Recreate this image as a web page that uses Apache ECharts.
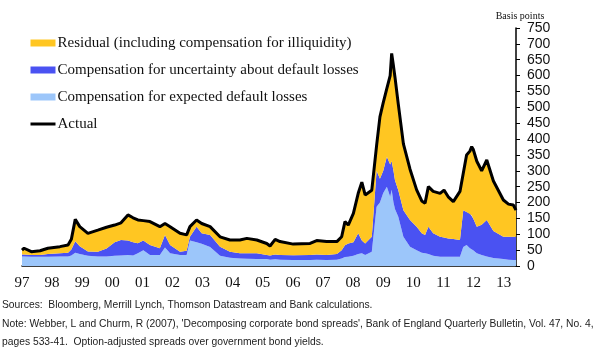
<!DOCTYPE html>
<html>
<head>
<meta charset="utf-8">
<script src="https://cdn.jsdelivr.net/npm/echarts@6/dist/echarts.min.js"></script>
<style>
  html, body { margin: 0; padding: 0; background: #fff; }
  #main { width: 598px; height: 352px; }
</style>
</head>
<body>
<div id="main"></div>
<script>
// decimal years
var dates = [1997.00, 1997.07, 1997.31, 1997.60, 1997.86, 1998.26, 1998.53, 1998.64, 1998.77, 1998.92,
  1999.19, 1999.52, 1999.81, 2000.08, 2000.29, 2000.52, 2000.69, 2000.85, 2001.03, 2001.25,
  2001.58, 2001.75, 2001.92, 2002.25, 2002.47, 2002.58, 2002.80, 2002.97, 2003.25, 2003.58,
  2003.91, 2004.24, 2004.47, 2004.80, 2005.13, 2005.24, 2005.41, 2005.57, 2006.01, 2006.57,
  2006.79, 2007.12, 2007.46, 2007.62, 2007.73, 2007.84, 2008.01, 2008.17, 2008.29, 2008.40,
  2008.62, 2008.78, 2008.89, 2009.00, 2009.12, 2009.23, 2009.28, 2009.34, 2009.39, 2009.50,
  2009.67, 2009.89, 2010.11, 2010.28, 2010.39, 2010.50, 2010.66, 2010.89, 2011.02, 2011.16,
  2011.33, 2011.55, 2011.66, 2011.77, 2011.88, 2011.94, 2011.99, 2012.11, 2012.27, 2012.44,
  2012.66, 2012.99, 2013.16, 2013.32, 2013.41]

// basis points
var expected = [30, 30, 29, 29, 29, 30, 30, 33, 42, 38,
  32, 30, 30, 32, 33, 35, 33, 40, 50, 35,
  35, 58, 40, 35, 35, 80, 75, 70, 60, 32,
  26, 24, 23, 22, 22, 20, 21, 20, 19, 19,
  20, 19, 20, 24, 28, 29, 32, 38, 40, 35,
  45, 187, 200, 230, 250, 218, 240, 200, 180, 155,
  92, 61, 50, 42, 40, 38, 32, 29, 29, 29,
  29, 29, 60, 66, 56, 52, 50, 40, 35, 30,
  25, 22, 20, 19, 19]

var uncertainty = [6, 6, 6, 6, 9, 10, 12, 19, 36, 24,
  14, 15, 25, 43, 49, 45, 42, 32, 30, 31,
  21, 40, 26, 10, 13, 12, 49, 33, 38, 29,
  19, 16, 17, 18, 13, 13, 15, 15, 15, 16,
  16, 16, 18, 26, 37, 42, 43, 65, 40, 36,
  47, 113, 75, 70, 94, 102, 90, 100, 90, 84,
  84, 84, 74, 61, 58, 86, 71, 63, 61, 58,
  56, 53, 116, 104, 110, 108, 100, 84, 95, 115,
  85, 70, 72, 73, 73]

var residual = [14, 20, 10, 13, 18, 21, 24, 32, 69, 62,
  57, 68, 67, 54, 54, 81, 77, 73, 63, 74,
  68, 36, 58, 58, 50, 32, 21, 31, 26, 31,
  37, 42, 47, 42, 36, 30, 48, 42, 35, 36,
  44, 42, 39, 42, 75, 58, 91, 126, 184, 153,
  147, 80, 195, 215, 216, 280, 340, 330, 325, 271,
  209, 160, 116, 102, 100, 126, 132, 137, 149, 131,
  118, 153, 116, 180, 196, 216, 218, 206, 170, 189,
  158, 116, 103, 100, 84]

var actual = [50, 56, 45, 48, 56, 61, 66, 84, 147, 124,
  103, 113, 122, 129, 136, 161, 152, 145, 143, 140,
  124, 134, 124, 103, 98, 124, 145, 134, 124, 92,
  82, 82, 87, 82, 71, 63, 84, 77, 69, 71,
  80, 77, 77, 92, 140, 129, 166, 229, 264, 224,
  239, 380, 470, 515, 560, 600, 670, 630, 595, 510,
  385, 305, 240, 205, 198, 250, 235, 229, 239, 218,
  203, 235, 292, 350, 362, 376, 368, 330, 300, 334,
  268, 208, 195, 192, 176]

var names = [
  'Residual (including compensation for illiquidity)',
  'Compensation for uncertainty about default losses',
  'Compensation for expected default losses',
  'Actual'
]

var YEAR = 365.25 * 24 * 3600 * 1000

function toTime(d) {
  var y = Math.floor(d + 1e-9)
  var start = Date.UTC(y, 0, 1)
  var end = Date.UTC(y + 1, 0, 1)
  return start + (d - y) * (end - start)
}

function pairs(vals) {
  return dates.map(function(d, i) { return [toTime(d), vals[i]] })
}

var serif = '"Liberation Serif", "DejaVu Serif", serif'
var sans = '"Liberation Sans", Arial, sans-serif'

var myChart = echarts.init(document.getElementById('main'))

var option = {
  backgroundColor: '#fff',
  animation: false,
  useUTC: true,
  grid: { left: 22, right: 82, top: 28, bottom: 86 },
  legend: {
    orient: 'vertical',
    left: 24,
    top: 29,
    itemWidth: 25,
    itemHeight: 7,
    itemGap: 9,
    textStyle: { fontFamily: serif, fontSize: 15, color: '#111', lineHeight: 18, padding: [0, 0, 0, -3] },
    data: [
      { name: names[0], icon: 'rect' },
      { name: names[1], icon: 'rect' },
      { name: names[2], icon: 'rect' },
      { name: names[3], itemStyle: { color: 'rgba(0,0,0,0)', borderWidth: 0 }, lineStyle: { width: 3, color: '#000' } }
    ]
  },
  xAxis: {
    type: 'time',
    min: toTime(1997),
    max: toTime(2013.41),
    minInterval: YEAR * 0.99,
    maxInterval: YEAR * 1.01,
    splitLine: { show: false },
    axisLine: { lineStyle: { color: '#000', width: 1.5 } },
    axisTick: { inside: true, length: 4, lineStyle: { color: '#000' } },
    axisLabel: {
      margin: 10,
      fontFamily: serif,
      fontSize: 15,
      color: '#111',
      hideOverlap: false,
      showMinLabel: true,
      showMaxLabel: false,
      formatter: function(v) {
        var dt = new Date(v)
        if (dt.getUTCMonth() !== 0 || dt.getUTCDate() !== 1) return ''
        return String(dt.getUTCFullYear()).slice(2)
      }
    }
  },
  yAxis: {
    type: 'value',
    position: 'right',
    min: 0,
    max: 750,
    interval: 50,
    name: 'Basis points',
    nameLocation: 'end',
    nameGap: 7,
    nameTextStyle: { fontFamily: serif, fontSize: 10, color: '#111', padding: [0, 0, 0, 8] },
    splitLine: { show: false },
    axisLine: { show: true, lineStyle: { color: '#000', width: 1.5 } },
    axisTick: { show: true, length: 4, lineStyle: { color: '#000' } },
    axisLabel: { margin: 11, fontFamily: sans, fontSize: 14, color: '#111' }
  },
  series: [
    {
      name: names[2], type: 'line', stack: 'spread', symbol: 'none',
      lineStyle: { width: 0 }, itemStyle: { color: '#9cc6fa' },
      areaStyle: { color: '#9cc6fa', opacity: 1 },
      data: pairs(expected)
    },
    {
      name: names[1], type: 'line', stack: 'spread', symbol: 'none',
      lineStyle: { width: 0 }, itemStyle: { color: '#4a52f2' },
      areaStyle: { color: '#4a52f2', opacity: 1 },
      data: pairs(uncertainty)
    },
    {
      name: names[0], type: 'line', stack: 'spread', symbol: 'none',
      lineStyle: { width: 0 }, itemStyle: { color: '#ffc622' },
      areaStyle: { color: '#ffc622', opacity: 1 },
      data: pairs(residual)
    },
    {
      name: names[3], type: 'line', symbol: 'none', z: 5,
      lineStyle: { color: '#000', width: 3 }, itemStyle: { color: '#000' },
      data: pairs(actual)
    }
  ],
  graphic: [
    { type: 'text', left: 2, top: 300, style: { text: 'Sources:  Bloomberg, Merrill Lynch, Thomson Datastream and Bank calculations.', font: '10.3px ' + sans, fill: '#222' } },
    { type: 'text', left: 2, top: 319, style: { text: 'Note: Webber, L and Churm, R (2007), \'Decomposing corporate bond spreads\', Bank of England Quarterly Bulletin, Vol. 47, No. 4,', font: '10.3px ' + sans, fill: '#222' } },
    { type: 'text', left: 2, top: 337, style: { text: 'pages 533-41.  Option-adjusted spreads over government bond yields.', font: '10.3px ' + sans, fill: '#222' } }
  ]
}

myChart.setOption(option)
</script>
</body>
</html>
